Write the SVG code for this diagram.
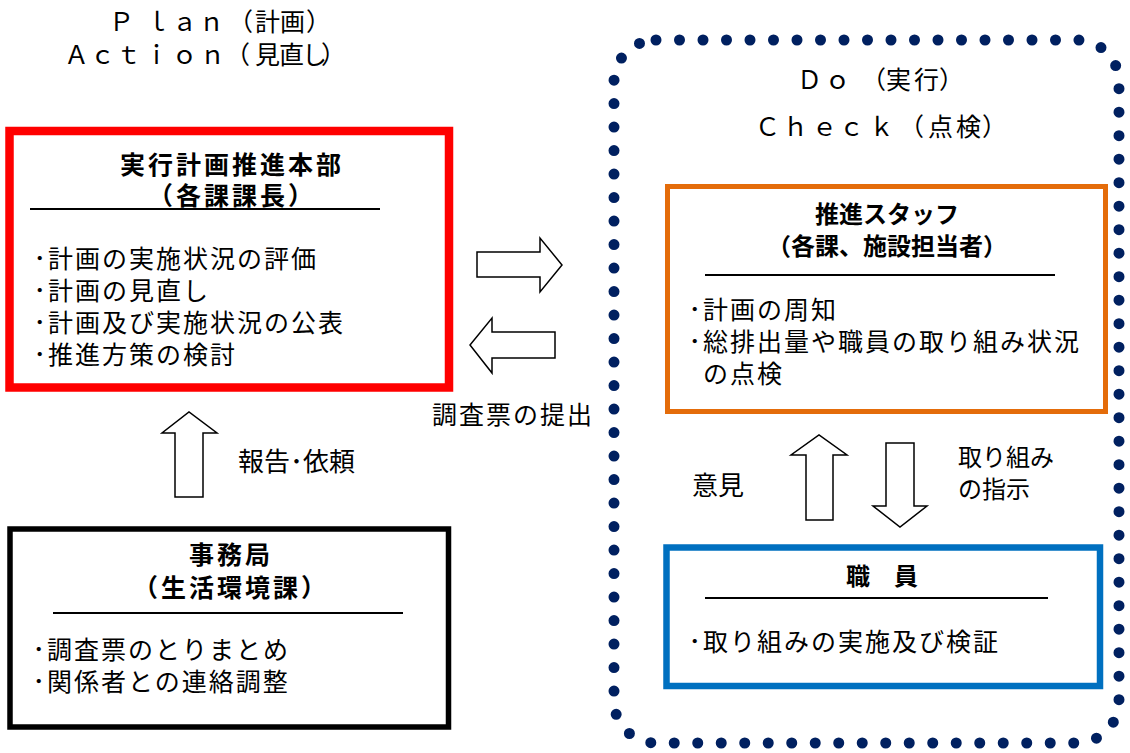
<svg xmlns="http://www.w3.org/2000/svg" width="1130" height="753" viewBox="0 0 1130 753">
<style>
text{font-family:"Noto Sans CJK JP",sans-serif;fill:#000}
.hd{font-size:25px}
.tt{font-size:25px;font-weight:bold;text-anchor:middle;letter-spacing:3px}
.tt2{font-size:24px;font-weight:bold;text-anchor:middle}
.b{font-size:25px;letter-spacing:2px}
.lb{font-size:26px}
.lb2{font-size:24px}
.arr{fill:#fff;stroke:#000;stroke-width:1.5;stroke-linejoin:miter}
.rule{stroke:#000;stroke-width:2}
</style>
<rect width="1130" height="753" fill="#fff"/>

<g id="plan-action-heading">
<text class="hd" x="109 145 172 199 228 255 280 306" y="31">Ｐｌａｎ（計画）</text>
<text class="hd" x="64 90 116 144 172 200 225 255 279 302 321" y="64">Ａｃｔｉｏｎ（見直し）</text>
</g>

<g id="do-check-area">
<rect x="614" y="40" width="505" height="703" rx="42" ry="42" fill="none" stroke="#002060" stroke-width="11" stroke-linecap="round" stroke-dasharray="0 23.5"/>
<text class="hd" x="797 825 861 886 914 939" y="89">Ｄｏ（実行）</text>
<text class="hd" x="755 783 812 839 869 899 928 956 982" y="136">Ｃｈｅｃｋ（点検）</text>
</g>

<g id="honbu">
<rect x="9.5" y="131" width="439.5" height="256.5" fill="#fff" stroke="#ff0000" stroke-width="8.5"/>
<text class="tt" x="232" y="174">実行計画推進本部</text>
<text class="tt" x="232" y="205">（各課課長）</text>
<line class="rule" x1="30" y1="209" x2="380" y2="209"/>
<text class="b" x="33.5" y="268">･計画の実施状況の評価</text>
<text class="b" x="33.5" y="300">･計画の見直し</text>
<text class="b" x="33.5" y="332">･計画及び実施状況の公表</text>
<text class="b" x="33.5" y="364">･推進方策の検討</text>
</g>

<g id="jimukyoku">
<rect x="10" y="529" width="438.5" height="198" fill="#fff" stroke="#000" stroke-width="5.5"/>
<text class="tt" x="231" y="564">事務局</text>
<text class="tt" x="231" y="597">（生活環境課）</text>
<line class="rule" x1="53" y1="613" x2="403" y2="613"/>
<text class="b" x="32.5" y="659">･調査票のとりまとめ</text>
<text class="b" x="32.5" y="691">･関係者との連絡調整</text>
</g>

<g id="suishin-staff">
<rect x="667.5" y="186.5" width="438" height="225" fill="#fff" stroke="#e46c0a" stroke-width="5"/>
<text class="tt2" x="887" y="223">推進スタッフ</text>
<text class="tt2" x="887" y="255">（各課、施設担当者）</text>
<line class="rule" x1="705" y1="275" x2="1055" y2="275"/>
<text class="b" x="688.5" y="319">･計画の周知</text>
<text class="b" x="688.5" y="351">･総排出量や職員の取り組み状況</text>
<text class="b" x="703" y="383">の点検</text>
</g>

<g id="shokuin">
<rect x="666.5" y="547.5" width="433.5" height="138.5" fill="#fff" stroke="#0070c0" stroke-width="6.5"/>
<text class="tt2" x="882" y="585">職　員</text>
<line class="rule" x1="705" y1="598" x2="1048" y2="598"/>
<text class="b" x="688.5" y="651">･取り組みの実施及び検証</text>
</g>

<g id="connectors">
<polygon class="arr" points="477,252 540,252 540,238 562,265 540,292 540,277 477,277"/>
<polygon class="arr" points="555,332 492,332 492,318 470,345 492,373 492,358 555,358"/>
<text class="b" x="432" y="424">調査票の提出</text>
<polygon class="arr" points="175,497 175,433 162,433 189,412 217,433 203,433 203,497"/>
<text class="lb" x="238" y="471">報告･依頼</text>
<polygon class="arr" points="806,520 806,455 791,455 819,435 847,455 833,455 833,520"/>
<polygon class="arr" points="886,443 914,443 914,506 927,506 900,527 873,506 886,506"/>
<text class="lb" x="692" y="495">意見</text>
<text class="lb2" x="958" y="466">取り組み</text>
<text class="lb2" x="958" y="498">の指示</text>
</g>
</svg>
